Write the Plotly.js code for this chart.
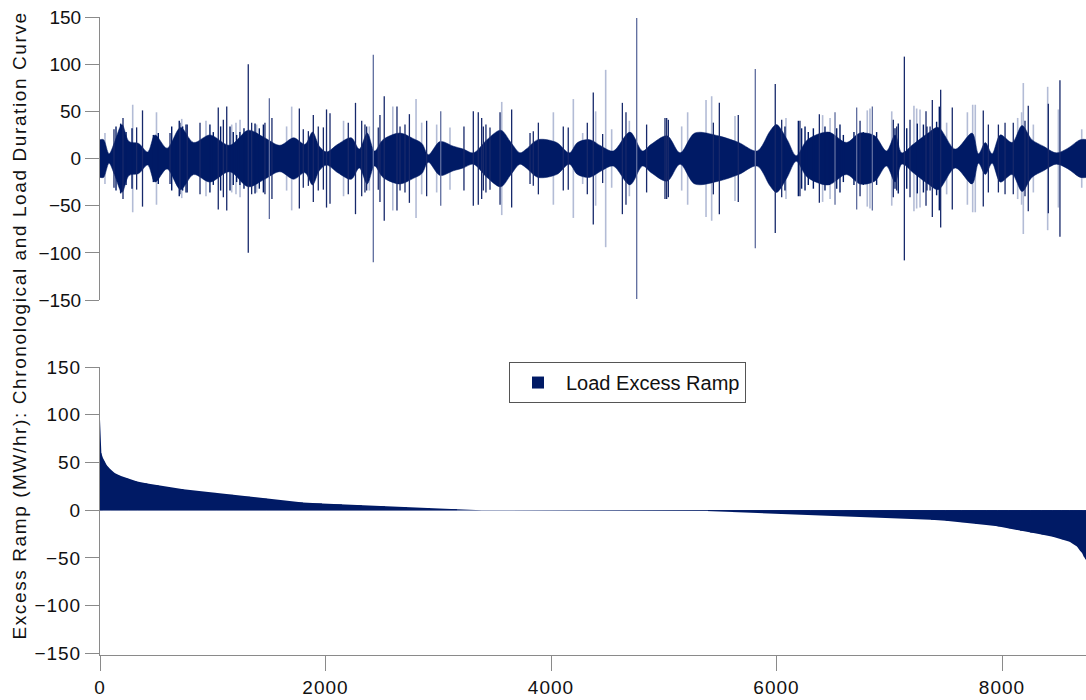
<!DOCTYPE html>
<html><head><meta charset="utf-8">
<script src="https://cdn.plot.ly/plotly-3.0.1.min.js"></script>
<style>html,body{margin:0;padding:0;background:#fff}#chart{width:1086px;height:700px}#chart .xtick text,#chart .ytick text{letter-spacing:1px}#chart .annotation-text{letter-spacing:1.6px}</style>
</head><body><div id="chart"></div>
<script>
// Top panel: chronological excess ramp, symmetric band. Core amplitude read at these hours.
const coreHours = [0,32,80,128,195,258,343,423,488,595,715,830,975,1150,1315,1460,1595,1718,1818,1885,1945,2010,2108,2228,2300,2370,2435,2510,2660,2780,2855,2912,3015,3135,3222,3312,3432,3555,3645,3725,3780,3885,4050,4162,4235,4342,4448,4552,4700,4812,4888,5030,5145,5275,5485,5665,5828,5942,6000,6095,6175,6275,6460,6620,6740,6872,6975,7052,7112,7212,7345,7435,7585,7735,7792,7852,7912,7985,8090,8178,8265,8368,8482,8585,8695,8760];
const coreAmps  = [20,20,5,17,36,18,16,7,25,11,33,17,25,14,30,22,14,22,15,28,13,7,15,22,10,27,8,20,27,21,16,4,18,13,10,6,20,30,17,6,10,20,17,6,17,20,13,8,28,8,15,24,6,27,24,17,8,29,36,20,3,20,28,17,27,24,8,25,6,15,27,33,10,27,5,17,5,25,17,35,20,13,6,11,20,20];

// Near-core dark lines (hour, amplitude)
const spikeCoreHours = [142,183,231,284,473,517,636,674,703,733,763,975,1005,1070,1153,1182,1212,1241,1277,1375,1413,1449,6075,6194,6223,6253,6282,6327,6430,6468,6504,6534,6563,6593,6687,6770,6888,7051,7080,7155,7249,7303,7334,7420,7444];
const spikeCoreAmps  = [34,37,28,32,25,27,34,25,40,34,36,36,28,34,34,28,25,28,32,37,32,36,34,40,32,34,28,32,34,28,25,32,36,25,28,28,28,32,37,32,37,36,34,39,55];
// Individual spikes (hour, amplitude)
const spikeDarkHours = [124,204,325,377,621,709,774,887,1049,1094,1124,1315,1345,1463,1525,1768,1803,1848,1892,1936,1981,2009,2040,2202,2266,2321,2350,2365,2468,2483,2521,2634,2661,2705,2744,2897,3228,3311,3355,3385,3400,3423,3459,3548,3651,3814,3843,3888,4109,4153,4322,4375,4458,4633,4665,4848,5011,5026,5041,5440,5493,5661,5989,6046,6208,6380,6741,7036,7066,7134,7184,7326,7362,7382,7456,7559,7834,7879,7968,8027,8100,8204,8233,8411,8514];
const spikeDarkAmps  = [31,43,33,51,27,38,36,38,54,41,55,100,38,38,43,53,31,29,46,34,33,52,48,38,59,40,36,34,33,46,66,55,34,36,47,40,34,50,49,43,34,36,33,49,52,27,29,38,34,33,38,70,26,59,49,36,43,43,41,38,59,46,79,41,40,47,40,41,34,108,41,50,34,62,73,54,51,36,36,38,38,40,56,58,83];
const spikeMidHours = [1502,2424,3022,4760,5812,6519,6711,6850];
const spikeMidAmps  = [64,110,50,149,95,49,54,55];
const spikeLightHours = [44,290,501,725,940,1168,1206,1242,1389,1655,1700,2160,2389,2597,2803,2853,2986,3104,3563,4021,4198,4281,4396,4485,4538,4695,5159,5212,5375,5425,5632,6084,6409,6475,6805,6829,7022,7219,7243,7273,7509,7693,7740,7763,8139,8174,8189,8278,8405,8500,8707];
const spikeLightAmps  = [27,57,49,42,40,36,38,41,36,34,55,40,34,55,63,38,36,33,60,49,63,27,50,94,31,40,34,49,62,66,45,43,46,43,51,53,50,56,53,52,38,49,57,57,43,49,80,36,76,52,31];

// Bottom panel: load duration curve (sorted excess ramp): hour rank and value
const durHours  = [0,5,12,25,40,60,90,130,180,250,330,420,520,620,740,880,1030,1180,1330,1480,1600,1685,1800,1969,2146,2323,2528,2723,2927,3166,3388,5392,5614,5836,6031,6300,6600,6850,7050,7220,7370,7500,7640,7760,7860,7960,8060,8160,8250,8350,8450,8530,8600,8630,8665,8692,8710,8725,8736,8745,8760];
const durValues = [95,67,60,55,51,47,43,39,36,33,30,28,26,24,22,20,18,16,14,12,10,9,8,7,6,5,4,3,2,1,0,-1,-2,-3,-4,-5,-6,-7,-8,-9,-10,-11,-12.5,-14,-15.5,-17,-19,-21.5,-23.5,-25.5,-28,-30.5,-33,-35.5,-38,-42.5,-45,-48.5,-51,-53,-55];

const yTicks = [-150,-100,-50,0,50,100,150];
const xTicks = [0,2000,4000,6000,8000];
const seriesName = 'Load Excess Ramp';
const yTitle = 'Excess Ramp (MW/hr): Chronological and Load Duration Curve';

const NAVY = '#001a65';
const FONT = 'Liberation Sans, Arial, sans-serif';

function segs(hours, amps){
  const x=[], y=[];
  hours.forEach((h,i)=>{ x.push(h,h,null); y.push(amps[i],-amps[i],null); });
  return {x,y};
}
const sL = segs(spikeLightHours, spikeLightAmps);
const sM = segs(spikeMidHours, spikeMidAmps);
const sD = segs(spikeDarkHours, spikeDarkAmps);
const sC = segs(spikeCoreHours, spikeCoreAmps);

// Bars lying inside the curve (smaller magnitude of each pair of neighbouring points)
const barX = [], barW = [], barY = [];
for (let i = 0; i < durHours.length - 1; i++) {
  const a = durValues[i], b = durValues[i+1];
  barX.push(durHours[i]);
  barW.push(durHours[i+1] - durHours[i]);
  barY.push(a * b <= 0 ? 0 : (Math.abs(a) < Math.abs(b) ? a : b));
}

const traces = [
  {x:sL.x, y:sL.y, xaxis:'x2', yaxis:'y2', type:'scatter', mode:'lines', line:{color:'#b3bcd6', width:1.6}, showlegend:false, hoverinfo:'skip'},
  {x:coreHours, y:coreAmps.map(v=>-v), xaxis:'x2', yaxis:'y2', type:'scatter', mode:'lines', line:{color:NAVY, width:0.5, shape:'spline', smoothing:0.9}, showlegend:false, hoverinfo:'skip'},
  {x:coreHours, y:coreAmps, xaxis:'x2', yaxis:'y2', type:'scatter', mode:'lines', fill:'tonexty', fillcolor:NAVY, line:{color:NAVY, width:0.5, shape:'spline', smoothing:0.9}, showlegend:false, hoverinfo:'skip'},
  {x:sC.x, y:sC.y, xaxis:'x2', yaxis:'y2', type:'scatter', mode:'lines', line:{color:NAVY, width:1.4}, showlegend:false, hoverinfo:'skip'},
  {x:sM.x, y:sM.y, xaxis:'x2', yaxis:'y2', type:'scatter', mode:'lines', line:{color:'#5e6c9e', width:1.3}, showlegend:false, hoverinfo:'skip'},
  {x:sD.x, y:sD.y, xaxis:'x2', yaxis:'y2', type:'scatter', mode:'lines', line:{color:'#17296b', width:1.3}, showlegend:false, hoverinfo:'skip'},
  {x:barX, y:barY, width:barW, offset:0, xaxis:'x', yaxis:'y', type:'bar', marker:{color:NAVY, line:{color:NAVY, width:0}}, name:seriesName, showlegend:true, hoverinfo:'skip'},
  {x:durHours, y:durValues, xaxis:'x', yaxis:'y', type:'scatter', mode:'lines', line:{color:NAVY, width:0}, fill:'tozeroy', fillcolor:NAVY, showlegend:false, hoverinfo:'skip'}
];

const axY = {tickvals:yTicks, ticks:'outside', ticklen:14, tickcolor:'#8a8a8a', tickwidth:1, showline:true, linecolor:'#8a8a8a', linewidth:1, showgrid:false, zeroline:false, tickfont:{size:19, color:'#111', family:FONT}};

const layout = {
  width:1086, height:700,
  margin:{l:100, r:0, t:17, b:45},
  paper_bgcolor:'#fff', plot_bgcolor:'#fff',
  font:{family:FONT, size:19, color:'#111'},
  xaxis:{domain:[0,1], anchor:'y', range:[0,8745], tickvals:xTicks, ticks:'outside', ticklen:15, tickcolor:'#8a8a8a', showline:true, linecolor:'#8a8a8a', showgrid:false, zeroline:false, tickfont:{size:19, color:'#111', family:FONT}},
  xaxis2:{domain:[0,1], anchor:'y2', range:[0,8745], visible:false},
  yaxis:Object.assign({domain:[0,0.4514], range:[-151.8,150], anchor:'x'}, axY, {zeroline:true, zerolinecolor:'#a9b2cc', zerolinewidth:1}),
  yaxis2:Object.assign({domain:[0.5564,1], range:[-150,150], anchor:'x2'}, axY),
  showlegend:true,
  legend:{x:0.4148, y:0.4592, xanchor:'left', yanchor:'top', bgcolor:'#fff', bordercolor:'#555', borderwidth:1, font:{size:20, family:FONT, color:'#111'}, itemwidth:46},
  annotations:[{text:yTitle, xref:'paper', yref:'paper', x:-0.081, y:0.5157, xanchor:'center', yanchor:'middle', textangle:-90, showarrow:false, font:{size:19, family:FONT, color:'#111'}}]
};

Plotly.newPlot('chart', traces, layout, {staticPlot:true, displayModeBar:false});
</script>
</body></html>
